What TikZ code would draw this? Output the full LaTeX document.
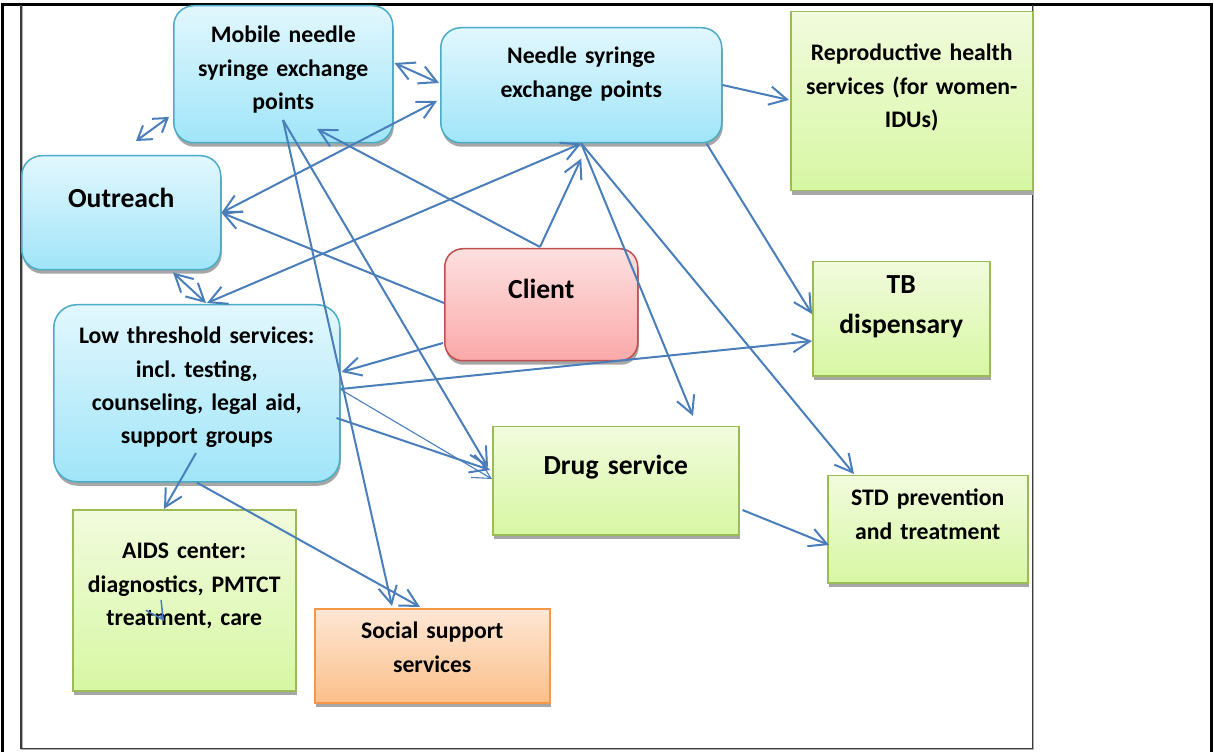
\documentclass[tikz,border=0pt]{standalone}
\usepackage{fontspec}
\setmainfont{Carlito}
\frenchspacing
\usepackage{tikz}
\usetikzlibrary{arrows.meta,calc,shadows}
\definecolor{Ink}{HTML}{000000}
\definecolor{Frame}{HTML}{3A3A3A}
\definecolor{FrameSoft}{HTML}{B0B0B0}
\definecolor{Shade}{HTML}{A6A6A6}
\definecolor{Link}{HTML}{4A7EBB}
\definecolor{BlueLine}{HTML}{4BACC6}
\definecolor{BlueTop}{HTML}{E2F7FD}
\definecolor{BlueBot}{HTML}{A0E5F9}
\definecolor{GreenLine}{HTML}{9BBB59}
\definecolor{GreenTop}{HTML}{F1FBDD}
\definecolor{GreenBot}{HTML}{D7F7A3}
\definecolor{RedLine}{HTML}{C0504D}
\definecolor{RedTop}{HTML}{FDE0E0}
\definecolor{RedBot}{HTML}{FBA9A9}
\definecolor{OrangeLine}{HTML}{F79646}
\definecolor{OrangeTop}{HTML}{FEE7D5}
\definecolor{OrangeBot}{HTML}{FBBF8A}
\tikzset{
  box/.style={line width=0.3mm,inner sep=0pt,anchor=north west,align=center,text=Ink,
    font=\bfseries\fontsize{13.5}{19}\selectfont,
    drop shadow={shadow xshift=0.2mm,shadow yshift=-0.8mm,fill=Shade,opacity=1}},
  bluebox/.style={box,rounded corners=4mm,draw=BlueLine,top color=BlueTop,bottom color=BlueBot},
  greenbox/.style={box,draw=GreenLine,top color=GreenTop,bottom color=GreenBot},
  redbox/.style={box,rounded corners=3.6mm,draw=RedLine,top color=RedTop,bottom color=RedBot},
  orangebox/.style={box,draw=OrangeLine,top color=OrangeTop,bottom color=OrangeBot},
  big/.style={font=\bfseries\fontsize{15.7}{22.8}\selectfont},
  link/.style={draw=Link,line width=0.4mm,-{Straight Barb[length=3.5mm,width=3.7mm]}},
  twoway/.style={link,{Straight Barb[length=3.5mm,width=3.7mm]}-{Straight Barb[length=3.5mm,width=3.7mm]}},
  shortway/.style={link,{Straight Barb[length=2.6mm,width=3.4mm]}-{Straight Barb[length=2.6mm,width=3.4mm]}},
  thinlink/.style={link,line width=0.22mm}
}
\begin{document}
\begin{tikzpicture}[x=0.2mm,y=-0.2mm]
  \useasboundingbox (0,0) rectangle (1214,752);
  % page frames
  \draw[line width=0.6mm] (2.5,752) -- (2.5,4.5) -- (1211.5,4.5) -- (1211.5,752);
  \draw[FrameSoft,line width=0.3mm] (22,6) -- (22,749.5) -- (1033.5,749.5) -- (1033.5,6);
  \draw[Frame,line width=0.3mm] (21,5) -- (21,748.5) -- (1032.5,748.5) -- (1032.5,5);
  % boxes
  \node[bluebox,text width=43.8mm,text height=7.4mm,text depth=20mm] (mobile) at (173,5) {Mobile needle\\syringe exchange\\points};
  \node[bluebox,text width=56.2mm,text height=7.2mm,text depth=15.8mm] (nsep) at (440,27) {Needle syringe\\exchange points};
  \node[greenbox,text width=48.4mm,text height=9.8mm,text depth=26mm] (repro) at (790,11) {Reproductive health\\services (for women-\\IDUs)};
  \node[bluebox,big,text width=39.8mm,text height=10.4mm,text depth=12.4mm] (outreach) at (21,155) {Outreach};
  \node[redbox,big,text width=38.6mm,text height=10mm,text depth=12.4mm] (client) at (444,248) {Client};
  \node[greenbox,big,text width=35.4mm,text height=6.4mm,text depth=16.4mm] (tb) at (812,261) {TB\\dispensary};
  \node[bluebox,rounded corners=4.6mm,text width=57.2mm,text height=7.8mm,text depth=27.6mm] (lowt) at (53,304) {Low threshold services:\\incl. testing,\\counseling, legal aid,\\support groups};
  \node[greenbox,big,text width=49.2mm,text height=9.6mm,text depth=12mm] (drug) at (492,426) {Drug service};
  \node[greenbox,text width=40mm,text height=6mm,text depth=15.4mm] (std) at (827,475) {STD prevention\\and treatment};
  \node[greenbox,text width=44.6mm,text height=9.8mm,text depth=26.4mm] (aids) at (72,509) {AIDS center:\\diagnostics, PMTCT\\treatment, care};
  \node[orangebox,text width=47mm,text height=6mm,text depth=12.8mm] (social) at (314,608) {Social support\\services};
  % connectors
  \draw[twoway] ($(mobile.north east)+(1,58)$) -- ($(nsep.north west)+(-1,56)$);
  \draw[shortway] ($(outreach.north west)+(115,-14)$) -- ($(mobile.north west)+(-4,112)$);
  \draw[twoway] ($(outreach.south west)+(152,2)$) -- ($(lowt.north west)+(153,-1)$);
  \draw[twoway] ($(lowt.north west)+(154,-1)$) -- (nsep.south);
  \draw[twoway] (outreach.east) -- ($(nsep.north west)+(-3,74)$);
  \draw[link] ($(client.north west)+(0,55)$) -- (outreach.east);
  \draw[link] ($(client.north west)+(96,-1)$) -- ($(mobile.north west)+(144,124)$);
  \draw[link] ($(client.north west)+(96,-1)$) -- ($(nsep.south)+(0,15)$);
  \draw[link] ($(mobile.north west)+(110,115)$) -- ($(drug.north west)+(-4,41)$);
  \draw[link] ($(mobile.north west)+(110,115)$) -- ($(social.north west)+(78,-2)$);
  \draw[link] ($(client.north west)+(-1,95)$) -- ($(lowt.north east)+(1,68)$);
  \draw[link] ($(lowt.north east)+(0,85)$) -- ($(tb.north west)+(0,80)$);
  \draw[thinlink] ($(lowt.north east)+(1,86)$) -- ($(drug.north west)+(0,53)$);
  \draw[link] ($(lowt.north east)+(-4,114)$) -- ($(drug.north west)+(-2,44)$);
  \draw[link] ($(lowt.north west)+(143,149)$) -- ($(aids.north west)+(92,0)$);
  \draw[link] (lowt.south) -- ($(social.north west)+(106,-1)$);
  \draw[link,line width=0.3mm] ($(aids.north west)+(88,106)$) -- ($(aids.north west)+(92,112)$);
  \draw[link] ($(nsep.north east)+(0,58)$) -- ($(repro.north west)+(-1,89)$);
  \draw[link] ($(nsep.south east)+(-16,0)$) -- ($(tb.north west)+(0,53)$);
  \draw[link] (nsep.south) -- ($(drug.north west)+(201,-10)$);
  \draw[link] (nsep.south) -- ($(std.north west)+(27,-1)$);
  \draw[link] ($(drug.north east)+(3,84)$) -- ($(std.north west)+(2,70)$);
\end{tikzpicture}
\end{document}
